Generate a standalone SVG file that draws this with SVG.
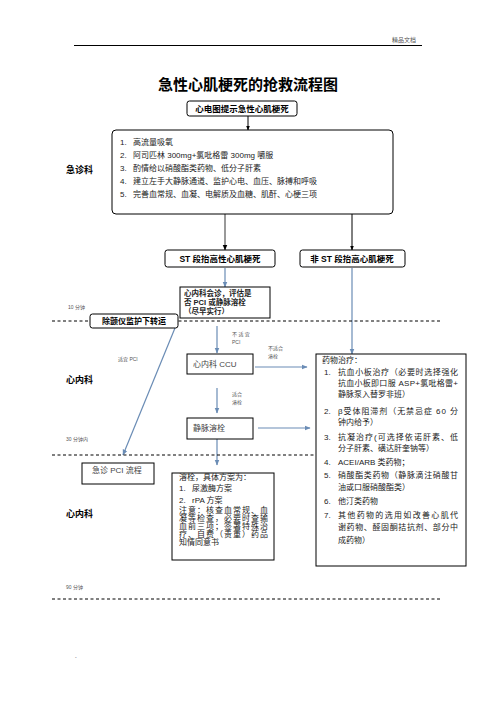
<svg xmlns="http://www.w3.org/2000/svg" width="496" height="702" viewBox="0 0 496 702">
<defs>
<style>
text{font-family:"Liberation Sans","Noto Sans CJK SC",sans-serif;fill:#222}
.b{font-weight:bold;fill:#000}
.n{font-size:8px;fill:#444}
.s{font-size:5px;fill:#555}
.box{fill:#fff;stroke:#000;stroke-width:1}
.dash{stroke:#000;stroke-width:1;stroke-dasharray:3,2.5;fill:none}
.blue{stroke:#6a8cb5;stroke-width:1.2;fill:none}
.blk{stroke:#000;stroke-width:1;fill:none}
</style>
<marker id="ab" viewBox="0 0 10 10" refX="9" refY="5" markerWidth="5" markerHeight="5" orient="auto"><path d="M0,1L10,5L0,9z" fill="#6a8cb5"/></marker>
<marker id="ak" viewBox="0 0 10 10" refX="9" refY="5" markerWidth="5" markerHeight="5" orient="auto"><path d="M0,1L10,5L0,9z" fill="#000"/></marker>
</defs>
<rect width="496" height="702" fill="#fff"/>
<line x1="74" y1="45.5" x2="422" y2="45.5" stroke="#000" stroke-width="1"/>
<text x="392" y="42" style="font-size:6px;fill:#555">精品文档</text>
<text x="248" y="90" text-anchor="middle" class="b" style="font-size:15px">急性心肌梗死的抢救流程图</text>

<g id="connectors">
<line x1="248" y1="116" x2="248" y2="130" class="blk" marker-end="url(#ak)"/>
<line x1="225" y1="214" x2="225" y2="250" stroke="#555" stroke-width="1.2" marker-end="url(#ak)"/>
<line x1="352" y1="214" x2="352" y2="250" class="blk" marker-end="url(#ak)"/>
<line x1="225" y1="268" x2="225" y2="287" class="blue" marker-end="url(#ab)"/>
<line x1="352" y1="268" x2="352" y2="354" class="blue" marker-end="url(#ab)"/>
<line x1="217" y1="326" x2="217" y2="353" class="blue" marker-end="url(#ab)"/>
<line x1="175" y1="328" x2="123" y2="455" class="blue" marker-end="url(#ab)"/>
<line x1="255" y1="367" x2="307" y2="367" class="blue" marker-end="url(#ab)"/>
<line x1="217" y1="388" x2="217" y2="413" class="blue" marker-end="url(#ab)"/>
<line x1="258" y1="428" x2="310" y2="428" class="blue" marker-end="url(#ab)"/>
<line x1="217" y1="439" x2="217" y2="465" class="blue" marker-end="url(#ab)"/>
<line x1="52" y1="321" x2="440" y2="321" class="dash"/>
<line x1="52" y1="455" x2="440" y2="455" class="dash"/>
<line x1="52" y1="599" x2="440" y2="599" class="dash"/>
</g>

<g id="ecg">
<rect x="187" y="101" width="110" height="15" rx="2.5" class="box"/>
<text x="242" y="111.5" text-anchor="middle" class="b" style="font-size:8.5px">心电图提示急性心肌梗死</text>
</g>

<g id="er">
<text x="66" y="173" class="b" style="font-size:9px">急诊科</text>
<rect x="112" y="130" width="281" height="84" rx="4" class="box"/>
<g style="font-size:8px">
<text x="120" y="145">1.</text><text x="133" y="145">高流量吸氧</text>
<text x="120" y="158">2.</text><text x="133" y="158">阿司匹林 300mg+氯吡格雷 300mg 嚼服</text>
<text x="120" y="171">3.</text><text x="133" y="171">酌情给以硝酸酯类药物、低分子肝素</text>
<text x="120" y="184">4.</text><text x="133" y="184">建立左手大静脉通道、监护心电、血压、脉搏和呼吸</text>
<text x="120" y="197">5.</text><text x="133" y="197">完善血常规、血凝、电解质及血糖、肌酐、心梗三项</text>
</g>
</g>

<g id="stemi">
<rect x="165" y="250" width="110" height="17" rx="2.5" class="box"/>
<text x="220" y="261.5" text-anchor="middle" class="b" style="font-size:8.5px">ST 段抬高性心肌梗死</text>
</g>
<g id="nstemi">
<rect x="300" y="250" width="105" height="17" rx="2.5" class="box"/>
<text x="352" y="261.5" text-anchor="middle" class="b" style="font-size:8.5px">非 ST 段抬高心肌梗死</text>
</g>

<g id="consult">
<rect x="180" y="287" width="90" height="31" class="box"/>
<g class="b" style="font-size:7.5px">
<text x="184" y="295.5">心内科会诊，评估是</text>
<text x="184" y="304.5">否 PCI 或静脉溶栓</text>
<text x="184" y="313.5">（尽早实行）</text>
</g>
</g>

<g id="transfer">
<rect x="90" y="314" width="88" height="14" rx="2.5" class="box"/>
<text x="134" y="324" text-anchor="middle" class="b" style="font-size:8px">除颤仪监护下转运</text>
</g>

<g id="labels">
<text x="68" y="309" class="s">10 分钟</text>
<text x="118" y="361" class="s">适宜 PCI</text>
<text x="66" y="383" class="b" style="font-size:9px">心内科</text>
<text x="66" y="441" class="s">30 分钟内</text>
<text x="66" y="517" class="b" style="font-size:9px">心内科</text>
<text x="66" y="589" class="s">90 分钟</text>
<text x="232" y="336" class="s">不 适 宜</text>
<text x="232" y="344" class="s">PCI</text>
<text x="268" y="350" class="s">不适合</text>
<text x="268" y="358" class="s">溶栓</text>
<text x="232" y="396" class="s">适合</text>
<text x="232" y="404" class="s">溶栓</text>
<text x="75" y="659" class="s">-</text>
</g>

<g id="ccu">
<rect x="187" y="354" width="66" height="20" class="box"/>
<text x="193" y="367" class="n">心内科 CCU</text>
</g>

<g id="ivt">
<rect x="187" y="418" width="66" height="21" class="box"/>
<text x="193" y="431" class="n">静脉溶栓</text>
</g>

<g id="pci">
<rect x="82" y="463" width="72" height="21" class="box"/>
<text x="92" y="473" class="n">急诊 PCI 流程</text>
</g>

<g id="thrombolysis">
<rect x="172" y="473" width="102" height="87" class="box"/>
<g class="n">
<text x="179" y="480">溶栓，具体方案为：</text>
<text x="179" y="491">1.</text><text x="192" y="491">尿激酶方案</text>
<text x="179" y="503">2.</text><text x="192" y="503">rPA 方案</text>
<text x="179" y="513" textLength="89">注意：核查血常规、血</text>
<text x="179" y="521" textLength="89">凝等检查，必要时查输</text>
<text x="179" y="529" textLength="89">血前三项；签署特殊治</text>
<text x="179" y="537" textLength="89">疗、自费（贵重）药品</text>
<text x="179" y="545">知情同意书</text>
</g>
</g>

<g id="drugs">
<rect x="316" y="354" width="150" height="212" class="box"/>
<g class="n">
<text x="322" y="363">药物治疗：</text>
<text x="324" y="375">1.</text><text x="338" y="375" textLength="120">抗血小板治疗（必要时选择强化</text>
<text x="338" y="386" textLength="120">抗血小板即口服 ASP+氯吡格雷+</text>
<text x="338" y="397">静脉泵入替罗非班）</text>
<text x="324" y="414">2.</text><text x="338" y="414" textLength="120">β受体阻滞剂（无禁忌症 60 分</text>
<text x="338" y="425">钟内给予）</text>
<text x="324" y="440">3.</text><text x="338" y="440" textLength="120">抗凝治疗(可选择依诺肝素、低</text>
<text x="338" y="451">分子肝素、磺达肝奎钠等）</text>
<text x="324" y="465">4.</text><text x="338" y="465">ACEI/ARB 类药物；</text>
<text x="324" y="478">5.</text><text x="338" y="478" textLength="120">硝酸酯类药物（静脉滴注硝酸甘</text>
<text x="338" y="490">油或口服硝酸酯类）</text>
<text x="324" y="504">6.</text><text x="338" y="504">他汀类药物</text>
<text x="324" y="518">7.</text><text x="338" y="518" textLength="120">其他药物的选用如改善心肌代</text>
<text x="338" y="530" textLength="120">谢药物、醛固酮拮抗剂、部分中</text>
<text x="338" y="543">成药物）</text>
</g>
</g>
</svg>
